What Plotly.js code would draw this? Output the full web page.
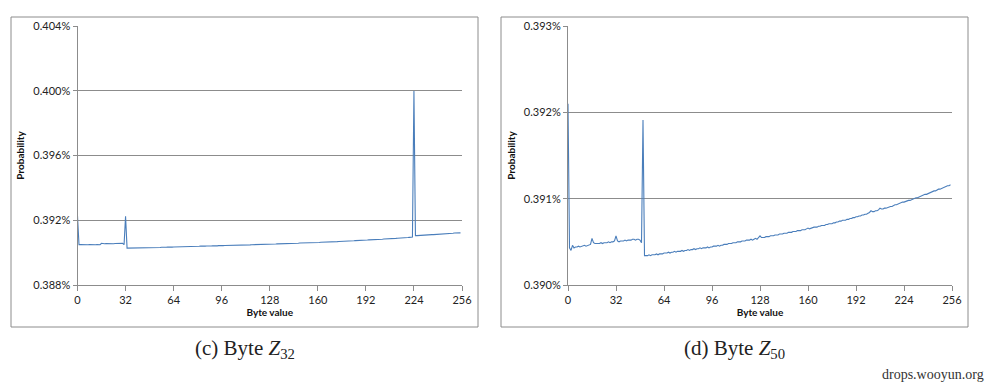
<!DOCTYPE html>
<html>
<head>
<meta charset="utf-8">
<script src="https://cdn.plot.ly/plotly-3.0.1.min.js"></script>
<style>html,body{margin:0;padding:0;background:#fff;}#chart{width:987px;height:386px;}</style>
</head>
<body>
<div id="chart"></div>
<script>
// Byte values 0..255 (category axis)
const byteValues = Array.from({length: 256}, (_, i) => i);
const xTickVals = [0, 32, 64, 96, 128, 160, 192, 224, 256];

// Probability (%) of each byte value
const probZ32 = [
0.39226,
0.39049,0.39050,0.39049,0.39049,0.39050,0.39049,0.39049,0.39050,0.39049,0.39050,0.39049,0.39049,0.39050,0.39050,0.39049,
0.39058,
0.39055,0.39055,0.39056,0.39055,0.39055,0.39056,0.39056,0.39055,0.39056,0.39056,0.39057,0.39056,0.39056,0.39057,
0.39049,
0.39224,
0.39028,
0.39028,0.39029,0.39028,0.39029,0.39029,0.39028,0.39029,0.39029,0.39030,0.39029,0.39030,0.39030,0.39030,0.39031,0.39030,
0.39031,0.39031,0.39031,0.39032,0.39031,0.39032,0.39032,0.39033,0.39032,0.39033,0.39033,0.39034,0.39033,0.39034,0.39034,
0.39035,0.39035,0.39036,0.39035,0.39036,0.39036,0.39037,0.39036,0.39037,0.39037,0.39038,0.39037,0.39038,0.39038,0.39038,0.39039,
0.39039,0.39039,0.39040,0.39039,0.39040,0.39040,0.39041,0.39040,0.39041,0.39041,0.39042,0.39041,0.39042,0.39042,0.39043,0.39042,
0.39043,0.39043,0.39044,0.39044,0.39044,0.39045,0.39044,0.39045,0.39045,0.39046,0.39045,0.39046,0.39046,0.39047,0.39047,0.39047,
0.39048,0.39047,0.39048,0.39048,0.39049,0.39049,0.39049,0.39050,0.39049,0.39050,0.39050,0.39051,0.39050,0.39051,0.39051,0.39052,
0.39052,0.39052,0.39053,0.39053,0.39053,0.39054,0.39054,0.39054,0.39055,0.39055,0.39055,0.39056,0.39056,0.39056,0.39057,0.39057,
0.39057,0.39058,0.39058,0.39058,0.39059,0.39059,0.39060,0.39059,0.39060,0.39060,0.39061,0.39061,0.39062,0.39061,0.39062,0.39062,
0.39063,0.39063,0.39064,0.39064,0.39065,0.39065,0.39065,0.39066,0.39066,0.39067,0.39067,0.39068,0.39068,0.39068,0.39069,0.39069,
0.39070,0.39070,0.39071,0.39071,0.39071,0.39072,0.39072,0.39073,0.39073,0.39074,0.39074,0.39075,0.39075,0.39076,0.39076,0.39077,
0.39078,0.39078,0.39079,0.39079,0.39080,0.39080,0.39081,0.39081,0.39082,0.39082,0.39083,0.39083,0.39084,0.39084,0.39085,0.39085,
0.39086,0.39086,0.39087,0.39088,0.39088,0.39089,0.39089,0.39090,0.39091,0.39091,0.39092,0.39093,0.39093,0.39094,0.39095,0.39096,
0.39998,
0.39105,0.39105,0.39106,0.39106,0.39107,0.39107,0.39108,0.39108,0.39109,0.39109,0.39110,0.39111,0.39111,0.39112,0.39112,0.39113,
0.39114,0.39114,0.39115,0.39116,0.39116,0.39117,0.39118,0.39118,0.39119,0.39120,0.39121,0.39121,0.39122,0.39124,0.39122
];

const probZ50 = [
0.39210,
0.39043,0.39040,0.39046,0.39043,0.39044,0.39044,0.39045,0.39044,0.39045,0.39045,0.39046,0.39045,0.39046,0.39046,0.39047,
0.39054,0.39049,0.39048,0.39048,0.39048,0.39048,0.39049,0.39048,0.39049,0.39049,0.39049,0.39050,0.39049,0.39050,0.39050,0.39051,
0.39057,0.39051,0.39050,0.39051,0.39051,0.39051,0.39052,0.39051,0.39052,0.39052,0.39052,0.39053,0.39053,0.39052,0.39053,0.39053,
0.39052,
0.39049,0.39191,0.39034,
0.39034,0.39034,0.39035,0.39034,0.39035,0.39035,0.39035,0.39036,0.39035,0.39036,0.39036,0.39036,
0.39037,0.39037,0.39037,0.39038,0.39037,0.39038,0.39038,0.39039,0.39038,0.39039,0.39039,0.39039,0.39040,0.39039,0.39040,0.39040,
0.39041,0.39040,0.39041,0.39041,0.39042,0.39041,0.39042,0.39042,0.39043,0.39042,0.39043,0.39043,0.39043,0.39044,0.39043,0.39044,
0.39044,0.39045,0.39045,0.39045,0.39046,0.39045,0.39046,0.39046,0.39047,0.39047,0.39047,0.39048,0.39048,0.39048,0.39049,0.39049,
0.39049,0.39050,0.39050,0.39050,0.39051,0.39051,0.39051,0.39052,0.39052,0.39052,0.39053,0.39052,0.39053,0.39054,0.39053,0.39055,
0.39057,0.39055,0.39055,0.39055,0.39056,0.39056,0.39056,0.39057,0.39057,0.39057,0.39058,0.39058,0.39058,0.39059,0.39059,0.39059,
0.39060,0.39060,0.39060,0.39061,0.39061,0.39061,0.39062,0.39062,0.39062,0.39063,0.39063,0.39063,0.39064,0.39064,0.39064,0.39065,
0.39066,0.39065,0.39066,0.39066,0.39067,0.39067,0.39067,0.39068,0.39068,0.39069,0.39069,0.39069,0.39070,0.39070,0.39071,0.39071,
0.39071,0.39072,0.39072,0.39073,0.39073,0.39074,0.39074,0.39075,0.39075,0.39075,0.39076,0.39076,0.39077,0.39077,0.39078,0.39078,
0.39079,0.39079,0.39080,0.39080,0.39081,0.39081,0.39082,0.39082,0.39083,0.39084,0.39086,0.39085,0.39085,0.39086,0.39086,0.39087,
0.39089,0.39088,0.39088,0.39089,0.39089,0.39090,0.39090,0.39091,0.39091,0.39092,0.39093,0.39093,0.39094,0.39094,0.39095,0.39096,
0.39096,0.39097,0.39097,0.39098,0.39098,0.39099,0.39100,0.39100,0.39101,0.39101,0.39102,0.39103,0.39103,0.39104,0.39105,0.39105,
0.39106,0.39107,0.39107,0.39108,0.39109,0.39109,0.39110,0.39111,0.39111,0.39112,0.39113,0.39113,0.39114,0.39115,0.39115,0.39116
];

const yTicksZ32 = [0.388, 0.392, 0.396, 0.400, 0.404];
const yTicksZ50 = [0.390, 0.391, 0.392, 0.393];
const captionZ32 = "(c) Byte <i>Z</i><sub>32</sub>";
const captionZ50 = "(d) Byte <i>Z</i><sub>50</sub>";
const xTitle = "Byte value";
const yTitle = "Probability";
const watermark = "drops.wooyun.org";

const W = 987, H = 386;
const px = v => v / W;
const py = v => 1 - v / H;

const lineColor = "#4a7ebb";
const gridColor = "#8c8c8c";
const tickFont = {family: "Lato, 'Open Sans', sans-serif", size: 11, color: "#222"};
const titleFont = {family: "Lato, 'Open Sans', sans-serif", size: 10, color: "#111", weight: "bold"};

function xAxis(domain, anchor) {
  return {
    domain: domain, anchor: anchor, range: [0, 256],
    tickmode: "array", tickvals: xTickVals, ticktext: xTickVals.map(String),
    ticks: "outside", ticklen: 5, tickcolor: gridColor,
    showline: true, linecolor: gridColor, linewidth: 1,
    showgrid: false, zeroline: false,
    tickfont: tickFont,
    title: {text: xTitle, font: titleFont, standoff: 2}
  };
}
function yAxis(domain, anchor, ticks) {
  return {
    domain: domain, anchor: anchor, range: [ticks[0], ticks[ticks.length - 1]],
    tickmode: "array", tickvals: ticks, ticktext: ticks.map(v => v.toFixed(3) + "%"),
    ticks: "outside", ticklen: 4, tickcolor: gridColor,
    showline: true, linecolor: gridColor, linewidth: 1,
    showgrid: true, gridcolor: gridColor, gridwidth: 1, zeroline: false,
    tickfont: tickFont,
    title: {text: yTitle, font: titleFont, standoff: 6}
  };
}

const yDom = [py(285), py(26)];

const traces = [
  {x: byteValues, y: probZ32, type: "scatter", mode: "lines", xaxis: "x", yaxis: "y",
   line: {color: lineColor, width: 1.1}, hoverinfo: "x+y"},
  {x: byteValues, y: probZ50, type: "scatter", mode: "lines", xaxis: "x2", yaxis: "y2",
   line: {color: lineColor, width: 1.1}, hoverinfo: "x+y"}
];

const capFont = {family: "'Liberation Serif', 'DejaVu Serif', serif", size: 21, color: "#222"};

const layout = {
  width: W, height: H,
  margin: {l: 0, r: 0, t: 0, b: 0},
  paper_bgcolor: "#fff", plot_bgcolor: "#fff",
  showlegend: false,
  xaxis: xAxis([px(77.5), px(462)], "y"),
  yaxis: yAxis(yDom, "x", yTicksZ32),
  xaxis2: xAxis([px(568), px(952)], "y2"),
  yaxis2: yAxis(yDom, "x2", yTicksZ50),
  shapes: [
    {type: "rect", xref: "paper", yref: "paper", x0: px(11), x1: px(478), y0: py(327), y1: py(17),
     line: {color: "#8c8c8c", width: 1}, fillcolor: "rgba(0,0,0,0)", layer: "below"},
    {type: "rect", xref: "paper", yref: "paper", x0: px(501), x1: px(968), y0: py(327), y1: py(17),
     line: {color: "#8c8c8c", width: 1}, fillcolor: "rgba(0,0,0,0)", layer: "below"}
  ],
  annotations: [
    {xref: "paper", yref: "paper", x: px(244.5), y: py(349), text: captionZ32, showarrow: false,
     font: capFont, xanchor: "center", yanchor: "middle"},
    {xref: "paper", yref: "paper", x: px(734.5), y: py(349), text: captionZ50, showarrow: false,
     font: capFont, xanchor: "center", yanchor: "middle"},
    {xref: "paper", yref: "paper", x: px(986), y: py(374), text: watermark, showarrow: false,
     font: {family: "'Liberation Serif', 'DejaVu Serif', serif", size: 14, color: "#333"}, xanchor: "right", yanchor: "middle"}
  ]
};

Plotly.newPlot("chart", traces, layout, {displayModeBar: false, staticPlot: true});
</script>
</body>
</html>
